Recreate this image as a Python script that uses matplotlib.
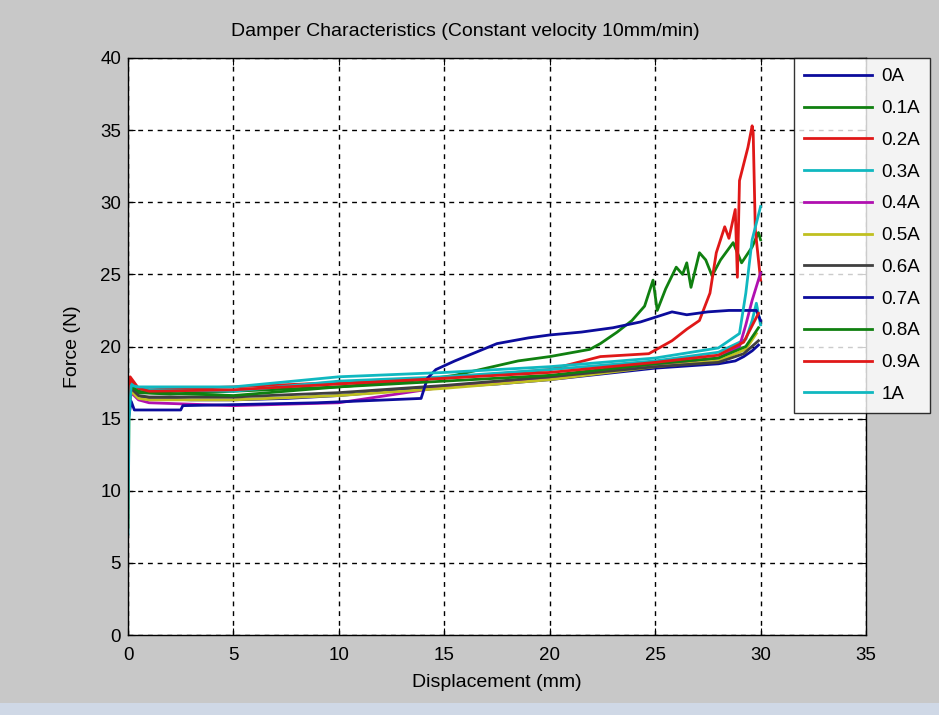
import matplotlib
matplotlib.use("Agg")
import matplotlib.pyplot as plt
from matplotlib.patches import Rectangle

plt.rcParams['font.family'] = ['Liberation Sans', 'DejaVu Sans']

# Data: (displacement mm, force N) per current
labels = ['0A', '0.1A', '0.2A', '0.3A', '0.4A', '0.5A', '0.6A', '0.7A', '0.8A', '0.9A', '1A']

x_0A = [0.0, 0.15, 0.4, 1, 3, 5, 7.5, 10, 12.5, 15, 17.5, 20, 22.5, 25, 27, 28, 28.8, 29.2, 29.6, 29.9]
y_0A = [15.2, 17.0, 16.6, 16.4, 16.3, 16.3, 16.4, 16.6, 16.9, 17.2, 17.4, 17.7, 18.1, 18.5, 18.7, 18.8, 19.0, 19.3, 19.7, 20.1]

x_01A = [0.0, 0.15, 0.5, 2, 5, 10, 14, 15.5, 17.3, 18.5, 20, 21.9, 22.4, 23.2, 23.9, 24.5, 24.9, 25.1, 25.5, 26.0,
         26.3, 26.5, 26.7, 27.1, 27.4, 27.7, 28.1, 28.7, 29.1, 29.6, 29.9, 30.0]
y_01A = [15.5, 17.3, 16.8, 16.7, 16.9, 17.2, 17.7, 18.0, 18.6, 19.0, 19.3, 19.8, 20.2, 21.0, 21.8, 22.8, 24.6, 22.5, 24.0, 25.5,
         25.0, 25.8, 24.1, 26.5, 26.0, 24.9, 26.0, 27.2, 25.8, 26.9, 27.9, 27.4]

x_02A = [0.0, 0.15, 0.5, 1, 5, 10, 15, 20, 22.4, 24.7, 25.8, 26.5, 27.1, 27.6, 27.9, 28.3, 28.5, 28.8, 28.9, 29.0,
         29.4, 29.6, 29.65, 29.75, 29.95, 30.0]
y_02A = [16.0, 17.6, 17.1, 17.0, 17.2, 17.5, 17.8, 18.4, 19.3, 19.5, 20.4, 21.2, 21.8, 23.7, 26.5, 28.3, 27.5, 29.5, 24.8, 31.5,
         33.8, 35.3, 34.8, 28.1, 25.3, 24.6]

x_03A = [0.0, 0.15, 0.5, 1, 5, 10, 15, 20, 25, 28, 29.3, 29.6, 29.8, 30.0]
y_03A = [15.8, 17.4, 17.1, 17.0, 16.9, 17.6, 17.9, 18.4, 19.0, 19.6, 20.5, 21.8, 23.0, 21.5]

x_04A = [0.0, 0.15, 0.5, 1, 5, 10, 15, 20, 25, 28, 29.0, 29.3, 29.6, 30.0]
y_04A = [15.0, 16.8, 16.3, 16.1, 15.9, 16.1, 17.2, 17.8, 18.7, 19.2, 20.0, 21.5, 23.2, 25.1]

x_05A = [0.0, 0.05, 0.15, 0.5, 1, 5, 10, 15, 20, 25, 28, 29.3, 29.8]
y_05A = [7.5, 15.8, 16.9, 16.4, 16.3, 16.3, 16.6, 17.1, 17.7, 18.6, 19.0, 19.8, 20.9]

x_06A = [0.0, 0.15, 0.5, 1, 5, 10, 15, 20, 25, 28, 29.2, 29.9]
y_06A = [15.4, 17.1, 16.6, 16.5, 16.5, 16.8, 17.3, 17.9, 18.6, 18.9, 19.5, 20.4]

x_07A = [0.0, 0.15, 0.3, 2.5, 2.6, 6, 9, 13.9, 14.2, 14.6, 15.5, 16.5, 17.5, 19, 20, 21.5, 23, 24.3, 25.8, 26.5,
         27.5, 28.5, 29.8, 30.0]
y_07A = [14.8, 16.2, 15.6, 15.6, 15.9, 16.0, 16.1, 16.4, 17.8, 18.4, 19.0, 19.6, 20.2, 20.6, 20.8, 21.0, 21.3, 21.7, 22.4, 22.2,
         22.4, 22.5, 22.5, 21.8]

x_08A = [0.0, 0.15, 0.5, 1, 5, 10, 15, 20, 25, 28, 29.3, 29.9]
y_08A = [15.6, 17.2, 16.9, 16.8, 16.6, 17.2, 17.6, 18.0, 18.8, 19.2, 20.0, 21.3]

x_09A = [0.0, 0.1, 0.5, 1, 5, 10, 15, 20, 25, 28, 29.2, 29.9]
y_09A = [16.5, 17.9, 17.1, 16.9, 17.0, 17.4, 17.8, 18.2, 18.9, 19.4, 20.3, 22.3]

x_1A = [0.0, 0.05, 0.15, 0.5, 1, 5, 10, 15, 20, 25, 28, 29.0, 29.3, 29.6, 30.0]
y_1A = [7.0, 15.0, 17.3, 17.2, 17.2, 17.2, 17.9, 18.2, 18.6, 19.2, 19.9, 20.9, 23.7, 27.4, 29.7]

series_x = [x_0A, x_01A, x_02A, x_03A, x_04A, x_05A, x_06A, x_07A, x_08A, x_09A, x_1A]
series_y = [y_0A, y_01A, y_02A, y_03A, y_04A, y_05A, y_06A, y_07A, y_08A, y_09A, y_1A]

# old MATLAB colour order
colors = ['#0c0c9c', '#108010', '#e01818', '#10b8c0', '#b010b0', '#c0c020', '#404040',
          '#0c0c9c', '#108010', '#e01818', '#10b8c0']

fig = plt.figure(figsize=(9.39, 7.15), dpi=100, facecolor='#c8c8c8')
fig.patches.append(Rectangle((0, 0), 1, 12 / 715, transform=fig.transFigure,
                             facecolor='#cfd8e6', edgecolor='none', zorder=0))
ax = fig.add_axes([128 / 939, 1 - 635 / 715, (866 - 128) / 939, (635 - 58) / 715])

for xs, ys, c, lab in zip(series_x, series_y, colors, labels):
    ax.plot(xs, ys, color=c, linewidth=2.0, label=lab)

ax.set_xlim(0, 35)
ax.set_ylim(0, 40)
ax.set_xticks(range(0, 36, 5))
ax.set_yticks(range(0, 41, 5))
ax.grid(True, color='black', linestyle=(0, (3.5, 3.5)), linewidth=1.0)
ax.set_axisbelow(True)
ax.tick_params(direction='in', top=True, right=True, labelsize=13.5, length=5)
ax.tick_params(axis='x', pad=9)
ax.tick_params(axis='y', pad=5)
for s in ax.spines.values():
    s.set_color('black')
    s.set_linewidth(1.0)

# title sits a bit left of the axes centre in the original
ax.set_title('Damper Characteristics (Constant velocity 10mm/min)', fontsize=14, pad=16,
             x=(465 - 128) / 738)
ax.set_xlabel('Displacement (mm)', fontsize=14, labelpad=7)
ax.set_ylabel('Force (N)', fontsize=14, labelpad=14)

leg = fig.legend(loc='upper left', bbox_to_anchor=(794 / 939, 1 - 58 / 715),
                 fontsize=13.5, frameon=True, fancybox=False, edgecolor='black',
                 handlelength=3.6, handletextpad=0.5, labelspacing=0.78,
                 borderaxespad=0, borderpad=0.55)
leg.get_frame().set_linewidth(1.0)

fig.savefig('out.png', dpi=100, facecolor=fig.get_facecolor())
